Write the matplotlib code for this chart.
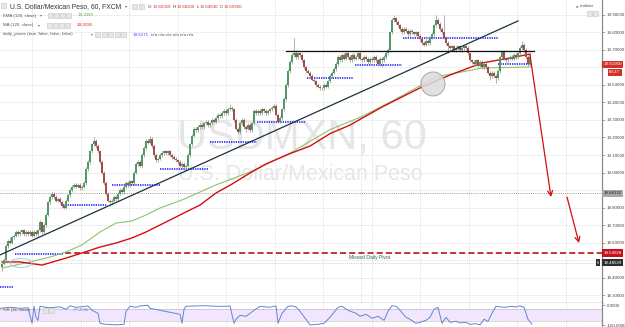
import matplotlib
matplotlib.use('Agg')
import matplotlib.pyplot as plt
import numpy as np
from matplotlib.patches import Ellipse, Rectangle
from matplotlib.transforms import blended_transform_factory

plt.rcParams['font.family'] = ['Liberation Sans', 'DejaVu Sans']

# ---------------- data (hourly USD/MXN bars) ----------------
first_open = 18.46
closes = [
    18.48, 18.50, 18.58, 18.61, 18.60, 18.63, 18.64, 18.66, 18.65, 18.66,
    18.67, 18.65, 18.66, 18.65, 18.66, 18.64, 18.66, 18.65, 18.67, 18.72,
    18.66, 18.70, 18.76, 18.83, 18.86, 18.88, 18.86, 18.84, 18.85, 18.83,
    18.81, 18.80, 18.84, 18.87, 18.90, 18.92, 18.93, 18.92, 18.93, 18.91,
    18.92, 18.94, 19.02, 19.06, 19.12, 19.16, 19.18, 19.15, 19.12, 19.06,
    19.00, 18.94, 18.88, 18.84, 18.83, 18.84, 18.86, 18.85, 18.88, 18.90,
    18.89, 18.92, 18.94, 18.93, 18.95, 18.94, 19.00, 19.05, 19.06, 19.04,
    19.10, 19.14, 19.18, 19.17, 19.19, 19.15, 19.10, 19.07, 19.08, 19.10,
    19.11, 19.12, 19.11, 19.12, 19.10, 19.09, 19.08, 19.07, 19.06, 19.04,
    19.05, 19.03, 19.04, 19.10, 19.16, 19.21, 19.25, 19.24, 19.26, 19.27,
    19.26, 19.28, 19.29, 19.27, 19.28, 19.30, 19.29, 19.31, 19.33, 19.32,
    19.34, 19.35, 19.34, 19.36, 19.37, 19.36, 19.30, 19.25, 19.23, 19.28,
    19.30, 19.26, 19.25, 19.27, 19.24, 19.28, 19.35, 19.34, 19.35, 19.34,
    19.36, 19.35, 19.34, 19.35, 19.36, 19.37, 19.38, 19.33, 19.29, 19.31,
    19.36, 19.42, 19.50, 19.58, 19.63, 19.67, 19.68, 19.66, 19.68, 19.67,
    19.64, 19.60, 19.58, 19.57, 19.55, 19.53, 19.52, 19.50, 19.49, 19.48,
    19.48, 19.50, 19.49, 19.52, 19.55, 19.57, 19.59, 19.62, 19.66, 19.64,
    19.67, 19.65, 19.68, 19.66, 19.64, 19.67, 19.65, 19.66, 19.68, 19.65,
    19.64, 19.66, 19.65, 19.63, 19.65, 19.64, 19.66, 19.64, 19.62, 19.65,
    19.64, 19.66, 19.68, 19.70, 19.80, 19.87, 19.88, 19.86, 19.84, 19.82,
    19.80, 19.82, 19.81, 19.79, 19.81, 19.80, 19.79, 19.80, 19.78, 19.76,
    19.74, 19.73, 19.75, 19.74, 19.77, 19.79, 19.84, 19.87, 19.85, 19.82,
    19.80, 19.77, 19.74, 19.72, 19.71, 19.72, 19.70, 19.71, 19.72, 19.70,
    19.71, 19.72, 19.71, 19.68, 19.64, 19.63, 19.62, 19.64, 19.61, 19.63,
    19.60, 19.62, 19.60, 19.57, 19.55, 19.57, 19.55, 19.54, 19.58, 19.66,
    19.69, 19.65, 19.64, 19.65, 19.66, 19.65, 19.67, 19.66, 19.68, 19.71,
    19.73, 19.70, 19.66, 19.62, 19.66]
highs = [
    18.49, 18.51, 18.59, 18.62, 18.63, 18.64, 18.65, 18.67, 18.67, 18.67,
    18.68, 18.68, 18.67, 18.67, 18.67, 18.67, 18.67, 18.67, 18.68, 18.73,
    18.72, 18.71, 18.77, 18.84, 18.87, 18.89, 18.89, 18.87, 18.86, 18.86,
    18.84, 18.82, 18.85, 18.88, 18.91, 18.93, 18.94, 18.94, 18.94, 18.94,
    18.93, 18.95, 19.03, 19.07, 19.13, 19.17, 19.20, 19.19, 19.16, 19.13,
    19.07, 19.01, 18.95, 18.89, 18.85, 18.85, 18.87, 18.87, 18.89, 18.91,
    18.91, 18.93, 18.95, 18.95, 18.96, 18.96, 19.01, 19.06, 19.07, 19.07,
    19.11, 19.15, 19.19, 19.19, 19.21, 19.20, 19.16, 19.11, 19.09, 19.11,
    19.12, 19.13, 19.13, 19.13, 19.13, 19.11, 19.10, 19.09, 19.08, 19.07,
    19.06, 19.06, 19.05, 19.11, 19.17, 19.22, 19.26, 19.26, 19.27, 19.28,
    19.28, 19.29, 19.30, 19.30, 19.29, 19.31, 19.31, 19.32, 19.34, 19.34,
    19.35, 19.36, 19.36, 19.37, 19.39, 19.38, 19.37, 19.31, 19.26, 19.29,
    19.31, 19.31, 19.27, 19.28, 19.28, 19.29, 19.36, 19.36, 19.36, 19.36,
    19.37, 19.37, 19.36, 19.36, 19.37, 19.38, 19.39, 19.39, 19.34, 19.32,
    19.37, 19.43, 19.51, 19.59, 19.64, 19.68, 19.77, 19.70, 19.69, 19.69,
    19.68, 19.65, 19.61, 19.59, 19.58, 19.56, 19.54, 19.53, 19.51, 19.50,
    19.49, 19.51, 19.51, 19.53, 19.56, 19.58, 19.60, 19.63, 19.67, 19.67,
    19.68, 19.68, 19.69, 19.69, 19.67, 19.68, 19.68, 19.67, 19.69, 19.69,
    19.66, 19.67, 19.67, 19.66, 19.66, 19.66, 19.67, 19.67, 19.65, 19.66,
    19.66, 19.67, 19.69, 19.71, 19.81, 19.88, 19.90, 19.89, 19.87, 19.85,
    19.83, 19.83, 19.83, 19.82, 19.82, 19.82, 19.81, 19.81, 19.81, 19.79,
    19.77, 19.75, 19.76, 19.76, 19.78, 19.80, 19.85, 19.90, 19.88, 19.86,
    19.83, 19.90, 19.78, 19.75, 19.73, 19.73, 19.73, 19.72, 19.73, 19.73,
    19.72, 19.73, 19.73, 19.72, 19.69, 19.65, 19.64, 19.65, 19.65, 19.64,
    19.64, 19.63, 19.63, 19.61, 19.58, 19.58, 19.58, 19.56, 19.59, 19.67,
    19.70, 19.70, 19.66, 19.66, 19.67, 19.67, 19.68, 19.68, 19.69, 19.72,
    19.75, 19.74, 19.71, 19.67, 19.68]
lows = [
    18.44, 18.47, 18.49, 18.57, 18.59, 18.59, 18.62, 18.63, 18.64, 18.64,
    18.65, 18.64, 18.64, 18.64, 18.64, 18.63, 18.63, 18.64, 18.64, 18.66,
    18.65, 18.65, 18.69, 18.75, 18.82, 18.85, 18.85, 18.83, 18.83, 18.82,
    18.80, 18.79, 18.79, 18.83, 18.86, 18.89, 18.91, 18.91, 18.91, 18.90,
    18.90, 18.91, 18.93, 19.01, 19.05, 19.11, 19.15, 19.14, 19.11, 19.05,
    18.99, 18.93, 18.87, 18.83, 18.81, 18.82, 18.83, 18.84, 18.84, 18.87,
    18.88, 18.88, 18.91, 18.92, 18.92, 18.93, 18.93, 18.99, 19.04, 19.03,
    19.03, 19.09, 19.13, 19.16, 19.16, 19.14, 19.09, 19.06, 19.06, 19.07,
    19.09, 19.10, 19.10, 19.10, 19.09, 19.08, 19.07, 19.06, 19.05, 19.03,
    19.02, 19.01, 19.02, 19.03, 19.09, 19.15, 19.20, 19.23, 19.23, 19.25,
    19.25, 19.25, 19.27, 19.26, 19.26, 19.27, 19.28, 19.28, 19.30, 19.31,
    19.31, 19.33, 19.33, 19.33, 19.35, 19.35, 19.29, 19.24, 19.22, 19.22,
    19.27, 19.25, 19.23, 19.24, 19.23, 19.23, 19.27, 19.33, 19.33, 19.33,
    19.33, 19.34, 19.33, 19.33, 19.34, 19.35, 19.36, 19.32, 19.28, 19.28,
    19.30, 19.35, 19.41, 19.49, 19.57, 19.62, 19.66, 19.65, 19.65, 19.66,
    19.63, 19.59, 19.57, 19.56, 19.54, 19.52, 19.51, 19.49, 19.48, 19.47,
    19.47, 19.47, 19.48, 19.48, 19.51, 19.54, 19.56, 19.58, 19.61, 19.63,
    19.63, 19.64, 19.64, 19.65, 19.63, 19.63, 19.64, 19.64, 19.65, 19.64,
    19.63, 19.63, 19.64, 19.62, 19.62, 19.63, 19.63, 19.63, 19.61, 19.61,
    19.60, 19.63, 19.65, 19.67, 19.69, 19.79, 19.86, 19.85, 19.83, 19.81,
    19.79, 19.79, 19.80, 19.78, 19.78, 19.79, 19.78, 19.78, 19.77, 19.75,
    19.73, 19.72, 19.72, 19.73, 19.73, 19.76, 19.78, 19.83, 19.84, 19.81,
    19.79, 19.76, 19.73, 19.68, 19.70, 19.70, 19.69, 19.69, 19.70, 19.69,
    19.69, 19.70, 19.70, 19.67, 19.63, 19.62, 19.61, 19.61, 19.60, 19.60,
    19.59, 19.59, 19.59, 19.56, 19.53, 19.54, 19.54, 19.51, 19.53, 19.57,
    19.65, 19.64, 19.63, 19.63, 19.64, 19.64, 19.64, 19.65, 19.65, 19.67,
    19.70, 19.69, 19.65, 19.61, 19.61]
opens = [first_open] + closes[:-1]

# EMA(120) and MA(120) read at selected bars
ema_idx = [0, 14, 24, 32, 40, 49, 57, 65, 72, 79, 90, 107, 124, 144, 164, 180, 196, 217, 240, 264]
ema_val = [18.454, 18.489, 18.517, 18.546, 18.586, 18.660, 18.711, 18.723, 18.757, 18.797,
           18.843, 18.929, 19.003, 19.111, 19.245, 19.320, 19.414, 19.546, 19.597, 19.603]
ma_idx = [0, 9, 20, 32, 40, 49, 57, 65, 72, 79, 86, 94, 99, 107, 115, 124, 132, 144, 154,
          164, 174, 180, 190, 199, 210, 224, 240, 254, 264]
ma_val = [18.489, 18.489, 18.471, 18.511, 18.540, 18.574, 18.597, 18.626, 18.660, 18.700,
          18.740, 18.786, 18.814, 18.883, 18.934, 18.997, 19.049, 19.108, 19.151, 19.222,
          19.271, 19.310, 19.374, 19.426, 19.489, 19.557, 19.626, 19.654, 19.677]

# daily pivots (level, first bar, last bar)
pivot_level = [18.346, 18.534, 18.814, 18.929, 19.020, 19.174, 19.289, 19.540, 19.614, 19.769, 19.620]
pivot_from = [-1, 6.5, 30.5, 55, 79, 104, 127.5, 152.5, 176.5, 200.5, 248]
pivot_to = [6, 30.5, 52.5, 79, 103, 127.5, 151.5, 175.5, 200, 248, 265]

# drawn levels
resistance = 19.694
resistance_from = 142
trend_idx = [-1, 258]
trend_val = [18.529, 19.866]
target_level = 18.88132
missed_pivot = 18.54028
missed_pivot_from = 31.5
support_level = 18.48529
last_price = 19.61950
arrow1_idx = [264, 274.5]
arrow1_val = [19.671, 18.860]
arrow2_idx = [282.5, 288.5]
arrow2_val = [18.860, 18.597]

# Williams %R(14)
wr_idx = [-1, 4, 9, 13, 15, 16, 17, 18, 19, 22, 24, 29, 32, 34, 37, 42, 43, 45, 48, 49,
          52, 57, 61, 62, 64, 67, 69, 73, 74, 79, 84, 89, 90, 91, 92, 97, 102, 107, 112, 114,
          116, 117, 119, 122, 126, 129, 134, 137, 138, 140, 143, 145, 147, 149, 152, 154, 158, 161, 164, 168,
          170, 173, 177, 179, 182, 185, 188, 191, 193, 195, 197, 199, 202, 204, 207, 209, 212, 214, 216, 218,
          220, 222, 224, 227, 229, 232, 234, 237, 239, 241, 243, 245, 247, 249, 252, 254, 257, 259, 261, 263, 265]
wr_val = [-15, -10, -15, -12, -90, -5, -60, -75, -5, -10, -12, -8, -20, -3, -10, -5, -3, -25, -40, -90,
          -95, -98, -95, -30, -5, -10, -3, 0, -15, -25, -35, -45, -90, -20, -5, -3, -2, -5, -5, -3,
          -90, -70, -50, -55, -25, -5, -10, -3, -90, -40, -5, -3, -8, -30, -70, -98, -95, -90, -60, -10,
          -5, -25, -40, -55, -45, -65, -55, -75, -30, -2, -5, -25, -60, -70, -90, -85, -75, -60, -20, -10,
          -90, -60, -85, -80, -88, -85, -95, -92, -98, -70, -80, -40, -5, -8, -10, -5, -8, -3, -10, -70, -95]

price_ticks = [19.9, 19.8, 19.7, 19.5, 19.4, 19.3, 19.2, 19.1, 19.0, 18.8, 18.7, 18.6, 18.4, 18.3]
grid_levels = [19.9, 19.8, 19.7, 19.6, 19.5, 19.4, 19.3, 19.2, 19.1, 19.0, 18.9, 18.8, 18.7,
               18.6, 18.5, 18.4, 18.3]

# ---------------- figure ----------------
W, H = 625, 327
fig = plt.figure(figsize=(W / 100, H / 100), dpi=100)
fig.patch.set_facecolor('white')

def fx(x):
    return x / W

def fy(y):
    return 1 - y / H

ax = fig.add_axes([0, fy(303), fx(602), 303 / H])
sub = fig.add_axes([0, 0, fx(602), 24 / H])

ax.set_xlim(-1, 300)
ax.set_ylim(18.2543, 19.9857)
sub.set_xlim(-1, 300)
sub.set_ylim(-108.5, 11.5)

GRID = '#ececec'
for a in (ax, sub):
    a.set_facecolor('white')
    for s in ('top', 'left'):
        a.spines[s].set_visible(False)
    a.spines['right'].set_color('#8a8a8a')
    a.spines['right'].set_linewidth(0.9)
    a.set_xticks([])
ax.spines['bottom'].set_color('#8a8a8a')
ax.spines['bottom'].set_linewidth(1.0)
sub.spines['bottom'].set_visible(False)

for lv in grid_levels:
    ax.axhline(lv, color=GRID, lw=0.6, zorder=0)
vgrid = [15 + 24.25 * k for k in range(13)]
for v in vgrid:
    ax.axvline(v, color=GRID, lw=0.6, zorder=0)
    sub.axvline(v, color=GRID, lw=0.6, zorder=0)
ax.axvline(179.5, color='#cfcfcf', lw=0.6, ls=(0, (1, 1.5)), zorder=0.2)

# watermark
ax.text(fx(302), fy(138), 'USDMXN, 60', transform=fig.transFigure, ha='center', va='center',
        fontsize=30, color='#e6e6e6', zorder=0.5)
ax.text(fx(300), fy(174), 'U.S. Dollar/Mexican Peso', transform=fig.transFigure, ha='center',
        va='center', fontsize=15.5, color='#e6e6e6', zorder=0.5)

# price axis
ax.yaxis.tick_right()
ax.set_yticks(price_ticks)
ax.set_yticklabels(['%.5f' % t for t in price_ticks])
ax.tick_params(axis='y', length=2, width=0.5, color='#8a8a8a', pad=1.2, labelsize=3.2,
               labelcolor='#444444')
sub.yaxis.tick_right()
sub.set_yticks([0, -100])
sub.set_yticklabels(['0.0000', '-100.0000'])
sub.tick_params(axis='y', length=2, width=0.5, color='#8a8a8a', pad=1.2, labelsize=3.2,
                labelcolor='#444444')

# horizontal levels
ax.axhline(target_level, color='#9a9a9a', lw=0.7, ls=(0, (1, 1.2)), zorder=1)
ax.axhline(support_level, color='#d0d0d0', lw=0.7, ls=(0, (1, 1.2)), zorder=1)
ax.plot([missed_pivot_from, 300], [missed_pivot, missed_pivot], color='#b30000', lw=1.1,
        ls=(0, (4, 2)), zorder=2)
ax.text(184, 18.513, 'Missed Daily Pivot', ha='center', va='center', fontsize=3.6,
        color='#2f5f55', zorder=5)

# pivots
for lv, a0, a1 in zip(pivot_level, pivot_from, pivot_to):
    ax.plot([a0, a1], [lv, lv], color='#2525ff', lw=1.2, ls=(0, (0.8, 0.6)), zorder=2)

# moving averages
ax.plot(ema_idx, ema_val, color='#8cc46b', lw=0.8, zorder=2.5)
ax.plot(ma_idx, ma_val, color='#d40f0f', lw=1.0, zorder=2.6)

# candles
idx = np.arange(len(closes))
o = np.array(opens)
c = np.array(closes)
hi = np.array(highs)
lo = np.array(lows)
up = c >= o
ax.vlines(idx, lo, hi, color='#8f8f8f', lw=0.5, zorder=3)
bb = np.minimum(o, c)
bh = np.maximum(np.abs(c - o), 0.004)
ax.bar(idx[up], bh[up], bottom=bb[up], width=0.85, color='#4f9a67', lw=0, zorder=4)
ax.bar(idx[~up], bh[~up], bottom=bb[~up], width=0.85, color='#a34d47', lw=0, zorder=4)

# drawings
ax.plot(trend_idx, trend_val, color='#1b3140', lw=0.9, zorder=5)
ax.plot([resistance_from, 266], [resistance, resistance], color='#111111', lw=0.9, zorder=5)
for xs, ys in ((arrow1_idx, arrow1_val), (arrow2_idx, arrow2_val)):
    ax.annotate('', xy=(xs[1], ys[1]), xytext=(xs[0], ys[0]),
                arrowprops=dict(arrowstyle='->,head_length=0.35,head_width=0.18',
                                color='#d01010', lw=0.9, shrinkA=0, shrinkB=0),
                zorder=6)
ax.add_patch(Ellipse((215.5, 19.506), 12, 0.137, fc='#dcdcdc', ec='#9a9a9a', lw=0.7,
                     alpha=0.85, zorder=6))
ax.add_patch(Ellipse((9.5, 18.483), 11, 0.051, fc='none', ec='#a9c8ea', lw=0.7, zorder=6))

# axis value labels
tr = blended_transform_factory(ax.transAxes, ax.transData)
def axis_label(val, txt, fc, tc, dy=0.0):
    ax.text(1.002, val + dy, txt, transform=tr, ha='left', va='center', fontsize=3.2,
            color=tc, clip_on=False, zorder=10,
            bbox=dict(boxstyle='square,pad=0.35', fc=fc, ec='none'))
axis_label(last_price, '%.5f' % last_price, '#d4302b', 'white')
ax.text(1.012, 19.572, '00:27', transform=tr, ha='left', va='center', fontsize=3.2,
        color='white', clip_on=False, zorder=10,
        bbox=dict(boxstyle='square,pad=0.35', fc='#d4302b', ec='none'))
axis_label(target_level, '%.5f' % target_level, '#a8a8a8', '#222222')
axis_label(missed_pivot, '%.5f' % missed_pivot, '#c8101a', 'white')
axis_label(support_level, '%.5f' % support_level, '#2e2e2e', 'white')
ax.text(0.993, support_level, '8', transform=tr, ha='center', va='center', fontsize=2.6,
        color='white', clip_on=False, zorder=10,
        bbox=dict(boxstyle='square,pad=0.3', fc='#2e2e2e', ec='none'))

# Williams %R pane
sub.axhspan(-80, -20, color='#f1e6fd', lw=0, zorder=0.5)
sub.axhline(-20, color='#8a8a8a', lw=0.5, ls=(0, (1, 1.2)), zorder=1)
sub.axhline(-80, color='#8a8a8a', lw=0.5, ls=(0, (1, 1.2)), zorder=1)
sub.plot(wr_idx, wr_val, color='#6286cf', lw=0.7, zorder=2)

# ---------------- legend texts ----------------
def icon(x, y, w=5, h=5):
    fig.add_artist(Rectangle((fx(x), fy(y + h)), w / W, h / H, transform=fig.transFigure,
                             fc='#e6e6e6', ec='#c4c4c4', lw=0.4, zorder=20))

def t(x, y, s, size, color, **kw):
    fig.text(fx(x), fy(y), s, fontsize=size, color=color, va='center', ha='left', zorder=21, **kw)

icon(1, 3, 5, 5)
t(10, 6.5, 'U.S. Dollar/Mexican Peso, 60, FXCM', 4.85, '#333333')
t(124.5, 6.5, '▾', 3, '#666666')
icon(132, 3.5)
icon(139, 3.5)
t(147.5, 6.5, 'O', 3.2, '#333333')
t(152.5, 6.5, '19.66310', 3.2, '#d4302b')
t(172.5, 6.5, 'H', 3.2, '#333333')
t(176.5, 6.5, '19.68300', 3.2, '#d4302b')
t(196.5, 6.5, 'L', 3.2, '#333333')
t(200, 6.5, '19.64630', 3.2, '#d4302b')
t(219.5, 6.5, 'C', 3.2, '#333333')
t(224, 6.5, '19.65960', 3.2, '#d4302b')

t(3, 15.5, 'EMA (120, close)', 3.2, '#555555')
t(40, 15.5, '▾', 2.6, '#666666')
for xi in (48, 54, 60, 66):
    icon(xi, 13, 5, 5)
t(78, 15.5, '19.3390', 3.2, '#5aa53c')

t(3, 25, 'MA (120, close)', 3.2, '#555555')
t(38, 25, '▾', 2.6, '#666666')
for xi in (47, 53, 59, 65):
    icon(xi, 22.5, 5, 5)
t(77, 25, '19.3195', 3.2, '#d40f0f')

t(3, 34.5, 'daily_pivots (true, false, false, false)', 3.2, '#555555')
t(91, 34.5, '▾', 2.6, '#666666')
for xi in (95, 101.5, 108, 114.5, 121):
    icon(xi, 32, 5, 5)
t(132.5, 34.5, '19.6171', 3.2, '#3a3aff')
t(151, 34.5, 'n/a n/a n/a n/a n/a n/a', 3.2, '#555555')

t(576, 6, '●', 3, '#2f8f3f')
t(580, 6, 'realtime', 3.0, '#555555')
icon(587, 11, 5, 5)
icon(593, 11, 5, 5)

t(3, 310, '%R (14, close)', 3.0, '#555555')
icon(43, 307.5, 5, 5)
icon(49, 307.5, 5, 5)
t(73, 310, '-77.2096', 3.0, '#5a7fc9')

fig.savefig('out.png', dpi=100)
